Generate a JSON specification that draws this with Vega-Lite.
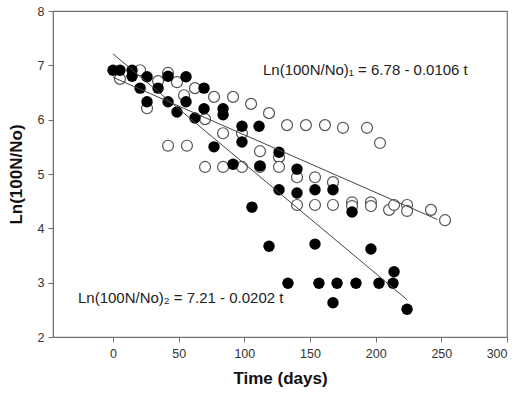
{
  "$schema": "https://vega.github.io/schema/vega-lite/v6.json",
  "width": 454,
  "height": 326,
  "autosize": {"type": "none"},
  "padding": {"left": 53, "top": 11, "right": 11, "bottom": 60},
  "background": "white",
  "config": {
    "view": {"stroke": "#707070", "strokeWidth": 1.2},
    "font": "Liberation Sans"
  },
  "datasets": {
    "open": [
      {"t": 5.3, "y": 6.75}, {"t": 20.6, "y": 6.91}, {"t": 41.9, "y": 6.86}, {"t": 34.3, "y": 6.71},
      {"t": 48.7, "y": 6.69}, {"t": 62.4, "y": 6.58}, {"t": 54.1, "y": 6.45}, {"t": 76.9, "y": 6.42},
      {"t": 91.4, "y": 6.42}, {"t": 25.9, "y": 6.21}, {"t": 105.1, "y": 6.29}, {"t": 118.8, "y": 6.12},
      {"t": 132.5, "y": 5.9}, {"t": 146.9, "y": 5.9}, {"t": 161.4, "y": 5.9}, {"t": 175.1, "y": 5.85},
      {"t": 193.4, "y": 5.85}, {"t": 203.3, "y": 5.57}, {"t": 70.1, "y": 6.01}, {"t": 83.8, "y": 5.75},
      {"t": 98.2, "y": 5.75}, {"t": 41.9, "y": 5.52}, {"t": 56.3, "y": 5.52}, {"t": 111.9, "y": 5.42},
      {"t": 126.4, "y": 5.31}, {"t": 70.1, "y": 5.13}, {"t": 83.8, "y": 5.13}, {"t": 98.2, "y": 5.13},
      {"t": 111.9, "y": 5.13}, {"t": 126.4, "y": 5.13}, {"t": 140.1, "y": 4.94}, {"t": 153.8, "y": 4.94},
      {"t": 167.5, "y": 4.85}, {"t": 140.1, "y": 4.43}, {"t": 153.8, "y": 4.43}, {"t": 167.5, "y": 4.43},
      {"t": 182.0, "y": 4.48}, {"t": 182.0, "y": 4.41}, {"t": 196.4, "y": 4.48}, {"t": 196.4, "y": 4.41},
      {"t": 210.2, "y": 4.34}, {"t": 214.0, "y": 4.43}, {"t": 223.9, "y": 4.43}, {"t": 223.9, "y": 4.32},
      {"t": 242.1, "y": 4.34}, {"t": 252.8, "y": 4.15}
    ],
    "filled": [
      {"t": 0, "y": 6.91}, {"t": 5.3, "y": 6.91}, {"t": 14.5, "y": 6.91}, {"t": 14.5, "y": 6.8},
      {"t": 25.9, "y": 6.79}, {"t": 41.9, "y": 6.8}, {"t": 55.6, "y": 6.79}, {"t": 20.6, "y": 6.58},
      {"t": 34.3, "y": 6.58}, {"t": 69.3, "y": 6.58}, {"t": 25.9, "y": 6.33}, {"t": 41.9, "y": 6.33},
      {"t": 55.6, "y": 6.33}, {"t": 48.7, "y": 6.14}, {"t": 69.3, "y": 6.2}, {"t": 83.8, "y": 6.2},
      {"t": 83.8, "y": 6.09}, {"t": 62.4, "y": 6.03}, {"t": 98.2, "y": 5.88}, {"t": 111.2, "y": 5.88},
      {"t": 98.2, "y": 5.59}, {"t": 76.9, "y": 5.5}, {"t": 126.4, "y": 5.4}, {"t": 91.4, "y": 5.18},
      {"t": 111.9, "y": 5.15}, {"t": 140.1, "y": 5.09}, {"t": 126.4, "y": 4.71}, {"t": 140.1, "y": 4.65},
      {"t": 153.8, "y": 4.71}, {"t": 167.5, "y": 4.71}, {"t": 182.0, "y": 4.3}, {"t": 105.8, "y": 4.39},
      {"t": 118.8, "y": 3.67}, {"t": 153.8, "y": 3.71}, {"t": 196.4, "y": 3.62}, {"t": 133.2, "y": 2.99},
      {"t": 156.8, "y": 2.99}, {"t": 170.6, "y": 2.99}, {"t": 185.0, "y": 2.99}, {"t": 202.5, "y": 2.99},
      {"t": 213.2, "y": 2.99}, {"t": 214.0, "y": 3.2}, {"t": 167.5, "y": 2.63}, {"t": 223.9, "y": 2.51}
    ],
    "lines": [
      {"series": "1", "t": 0, "y": 6.78}, {"series": "1", "t": 247, "y": 4.162},
      {"series": "2", "t": 0, "y": 7.21}, {"series": "2", "t": 224, "y": 2.685}
    ],
    "labels": [
      {"label": "Ln(100N/No)₁ = 6.78 - 0.0106 t", "t": 114.2, "y": 6.91},
      {"label": "Ln(100N/No)₂ = 7.21 - 0.0202 t", "t": -26.7, "y": 2.72}
    ]
  },
  "encoding": {
    "x": {
      "field": "t", "type": "quantitative",
      "scale": {"domain": [-45.7, 300], "nice": false, "zero": false},
      "axis": {
        "title": "Time (days)", "values": [0, 50, 100, 150, 200, 250, 300],
        "grid": false, "domainColor": "#707070", "tickColor": "#707070", "tickSize": 5,
        "labelFont": "Liberation Sans", "labelFontSize": 12.5, "labelColor": "#333333", "labelPadding": 5,
        "titleFont": "Liberation Sans", "titleFontSize": 17, "titleFontWeight": "bold", "titleColor": "#111111",
        "titlePadding": 11
      }
    },
    "y": {
      "field": "y", "type": "quantitative",
      "scale": {"domain": [2, 8], "nice": false, "zero": false},
      "axis": {
        "title": "Ln(100N/No)", "values": [2, 3, 4, 5, 6, 7, 8],
        "grid": false, "domainColor": "#707070", "tickColor": "#707070", "tickSize": 5,
        "labelFont": "Liberation Sans", "labelFontSize": 12.5, "labelColor": "#333333", "labelPadding": 4,
        "titleFont": "Liberation Sans", "titleFontSize": 17, "titleFontWeight": "bold", "titleColor": "#111111",
        "titlePadding": 12
      }
    }
  },
  "layer": [
    {
      "data": {"name": "open"},
      "mark": {"type": "point", "shape": "circle", "filled": false, "fill": "white", "fillOpacity": 1, "stroke": "#555555", "strokeWidth": 1.2, "size": 120, "opacity": 1}
    },
    {
      "data": {"name": "filled"},
      "mark": {"type": "circle", "color": "black", "size": 130, "opacity": 1}
    },
    {
      "data": {"name": "lines"},
      "mark": {"type": "line", "color": "#444444", "strokeWidth": 1},
      "encoding": {"detail": {"field": "series"}}
    },
    {
      "data": {"name": "labels"},
      "mark": {"type": "text", "align": "left", "baseline": "middle", "font": "Liberation Sans", "fontSize": 15, "color": "#222222"},
      "encoding": {"text": {"field": "label"}}
    }
  ]
}
